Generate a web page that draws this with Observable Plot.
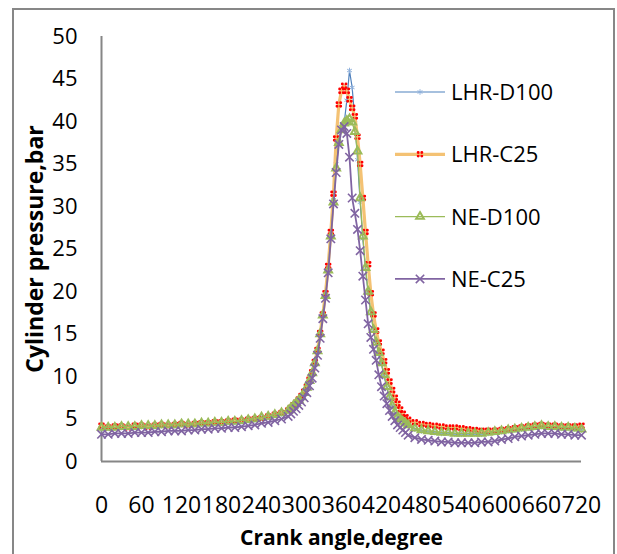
<!DOCTYPE html>
<html><head><meta charset="utf-8">
<script src="https://cdn.jsdelivr.net/npm/d3@7"></script>
<script src="https://cdn.jsdelivr.net/npm/@observablehq/plot@0.6"></script>
<style>
body{margin:0;background:#fff;font-family:"Open Sans",sans-serif;}
#wrap{position:relative;width:617px;height:554px;overflow:hidden;background:#fff;}
#border{position:absolute;left:12px;top:8px;width:603px;height:570px;border:2px solid #878787;box-sizing:border-box;}
#chart{position:absolute;left:0;top:0;}
#legend{position:absolute;left:0;top:0;}
</style></head><body>
<div id="wrap"><div id="border"></div><div id="chart"></div><svg id="legend" width="617" height="554"></svg></div>
<script>
// Crank angle (degree)
const angles = [0,10,20,30,40,50,60,70,80,90,100,110,120,130,140,150,160,170,180,190,200,210,220,230,240,250,260,270,280,
 284,288,292,296,300,304,308,312,316,320,324,328,332,336,340,344,348,352,356,360,364,368,372,376,380,384,388,392,396,400,404,408,412,416,420,424,428,432,436,440,444,448,452,456,460,
 470,480,490,500,510,520,530,540,550,560,570,580,590,600,610,620,630,640,650,660,670,680,690,700,710,720];

// Cylinder pressure (bar)
const lhrD100 = [3.9,3.9,3.9,4.0,4.0,4.0,4.1,4.1,4.1,4.2,4.2,4.2,4.3,4.3,4.3,4.4,4.4,4.5,4.5,4.6,4.6,4.7,4.8,4.9,5.1,5.2,5.4,5.6,5.9,
 6.2,6.5,6.8,7.1,7.5,8.0,8.6,9.4,10.3,11.5,12.9,14.9,17.1,19.5,22.6,26.6,30.8,35.0,38.0,39.2,39.8,42.5,46.0,44.0,40.2,35.5,30.5,26.2,22.6,19.8,17.4,15.4,13.9,12.6,11.4,10.0,8.7,7.5,6.5,5.7,5.2,4.9,4.6,4.4,4.2,
 3.8,3.6,3.5,3.4,3.3,3.3,3.2,3.2,3.2,3.2,3.2,3.3,3.4,3.5,3.6,3.7,3.8,3.9,4.0,4.1,4.0,4.0,3.9,3.9,3.8,3.7];

const lhrC25 = [4.2,4.0,4.1,4.1,4.0,4.2,4.2,4.1,4.2,4.3,4.2,4.3,4.4,4.3,4.4,4.5,4.5,4.6,4.6,4.7,4.8,4.8,4.9,5.0,5.1,5.3,5.5,5.7,6.0,
 6.3,6.6,6.9,7.3,7.7,8.2,8.8,9.6,10.5,11.7,13.1,15.1,17.3,19.8,23.0,27.0,31.5,38.0,42.0,43.6,44.2,43.6,42.6,41.6,40.6,38.2,35.0,31.0,27.0,23.2,19.8,17.3,15.4,14.0,12.9,11.8,10.6,9.4,8.4,7.5,6.8,6.1,5.6,5.2,4.9,
 4.6,4.4,4.3,4.2,4.1,4.0,4.0,3.9,3.8,3.7,3.6,3.6,3.6,3.7,3.8,3.9,4.0,4.1,4.2,4.3,4.2,4.2,4.1,4.1,4.1,4.2];

const neD100 = [4.0,4.0,4.0,4.1,4.1,4.1,4.2,4.2,4.2,4.3,4.3,4.3,4.4,4.4,4.4,4.5,4.5,4.6,4.6,4.7,4.7,4.8,4.9,5.0,5.2,5.3,5.5,5.7,6.0,
 6.3,6.6,6.9,7.2,7.6,8.1,8.7,9.5,10.4,11.6,13.0,15.0,17.2,19.5,22.5,26.5,30.5,34.5,37.5,39.0,39.8,40.1,40.3,39.9,38.8,36.5,31.0,26.5,22.8,20.0,17.6,15.5,14.0,12.8,11.6,10.2,8.8,7.6,6.6,5.8,5.3,5.0,4.7,4.5,4.3,
 3.9,3.7,3.6,3.5,3.4,3.4,3.3,3.3,3.3,3.3,3.3,3.4,3.5,3.6,3.7,3.8,3.9,4.0,4.1,4.2,4.1,4.1,4.0,4.0,3.9,3.8];

const neC25 = [3.2,3.2,3.3,3.3,3.3,3.4,3.4,3.4,3.5,3.5,3.6,3.6,3.6,3.7,3.7,3.8,3.8,3.9,3.9,4.0,4.0,4.1,4.2,4.3,4.5,4.6,4.8,5.0,5.3,
 5.6,5.9,6.2,6.6,7.0,7.5,8.1,8.9,9.8,11.0,12.5,14.5,16.8,19.2,22.2,26.2,30.3,34.0,37.3,39.0,39.4,38.6,35.8,31.0,29.2,27.3,24.8,21.8,19.0,16.2,14.6,13.2,11.9,10.2,8.8,7.7,6.8,6.0,5.3,4.8,4.3,4.0,3.7,3.4,3.1,
 2.8,2.6,2.5,2.4,2.3,2.3,2.2,2.2,2.2,2.2,2.3,2.3,2.4,2.6,2.7,2.9,3.0,3.1,3.2,3.3,3.3,3.3,3.2,3.2,3.1,3.1];

const seriesNames = ["LHR-D100","LHR-C25","NE-D100","NE-C25"];
const seriesValues = [lhrD100, lhrC25, neD100, neC25];
const xTicks = [0,60,120,180,240,300,360,420,480,540,600,660,720];
const yTicks = [0,5,10,15,20,25,30,35,40,45,50];

// four red dots marker
const fourDots = {draw(ctx, size){
  const s = Math.sqrt(size/Math.PI), d = s*0.55, rr = s*0.45;
  for (const [dx,dy] of [[-d,-d],[d,-d],[-d,d],[d,d]]) { ctx.moveTo(dx+rr, dy); ctx.arc(dx, dy, rr, 0, 2*Math.PI); }
}};

const styles = [
  {line:{stroke:"#4F81BD", strokeWidth:1.2}, dot:{symbol:"asterisk", r:2.6, stroke:"#8FB1DC", fill:"none", strokeWidth:1}},
  {line:{stroke:"#F4C274", strokeWidth:3.2}, dot:{symbol:fourDots, r:3.3, fill:"#FF0000", stroke:"none"}},
  {line:{stroke:"#9BBB59", strokeWidth:1.3}, dot:{symbol:"triangle2", r:3.7, stroke:"#9BBB59", fill:"none", strokeWidth:2}},
  {line:{stroke:"#8064A2", strokeWidth:1.8}, dot:{symbol:"times", r:3.9, stroke:"#8064A2", fill:"none", strokeWidth:1.6}}
];

const seriesMarks = [];
seriesNames.forEach((name, i) => {
  const rows = angles.map((a, j) => ({angle:a, p:seriesValues[i][j], series:name}));
  seriesMarks.push(Plot.line(rows, {x:"angle", y:"p", ...styles[i].line}));
  seriesMarks.push(Plot.dot(rows, {x:"angle", y:"p", ...styles[i].dot}));
});

const FONT = "'Open Sans', sans-serif";
const chart = Plot.plot({
  width: 617, height: 554,
  marginLeft: 101, marginRight: 36, marginTop: 36, marginBottom: 93,
  style: {fontFamily: FONT, fontSize: "22px", color: "#000", background: "transparent"},
  x: {domain: [0,720]},
  y: {domain: [0,50]},
  marks: [
    Plot.axisY({ticks: yTicks, tickSize: 0, tickPadding: 24, label: null, fontSize: 22}),
    Plot.axisX({ticks: xTicks, tickSize: 0, tickPadding: 35, label: null, fontSize: 23, tickFormat: d => String(d)}),
    Plot.ruleX([0], {stroke: "#868686", strokeWidth: 2}),
    Plot.ruleY([0], {stroke: "#868686", strokeWidth: 2}),
    ...seriesMarks,
    Plot.text(["Crank angle,degree"], {frameAnchor: "bottom", lineAnchor: "middle", dy: 77, fontWeight: "bold", fontSize: 21, fill: "#000"}),
    Plot.text(["Cylinder pressure,bar"], {frameAnchor: "left", textAnchor: "middle", lineAnchor: "middle", dx: -66, rotate: -90, fontWeight: "bold", fontSize: 23, fill: "#000"})
  ]
});
document.getElementById("chart").append(chart);

// legend
const lg = d3.select("#legend");
const legendTop = 92, legendStep = 62.3;
seriesNames.forEach((name, i) => {
  const y = legendTop + i*legendStep;
  const st = styles[i];
  lg.append("line").attr("x1",395).attr("x2",445).attr("y1",y).attr("y2",y)
    .attr("stroke", st.line.stroke).attr("stroke-width", st.line.strokeWidth);
  const symType = typeof st.dot.symbol === "string"
    ? ({asterisk:d3.symbolAsterisk, triangle2:d3.symbolTriangle2, times:d3.symbolTimes})[st.dot.symbol]
    : st.dot.symbol;
  lg.append("path").attr("transform", `translate(420,${y})`)
    .attr("d", d3.symbol(symType, Math.PI*st.dot.r*st.dot.r)())
    .attr("fill", st.dot.fill).attr("stroke", st.dot.stroke).attr("stroke-width", st.dot.strokeWidth || 1);
  lg.append("text").attr("x", 451).attr("y", y).attr("dy","0.36em")
    .attr("font-family", FONT).attr("font-size", 22).attr("fill","#000").text(name);
});
</script></body></html>
